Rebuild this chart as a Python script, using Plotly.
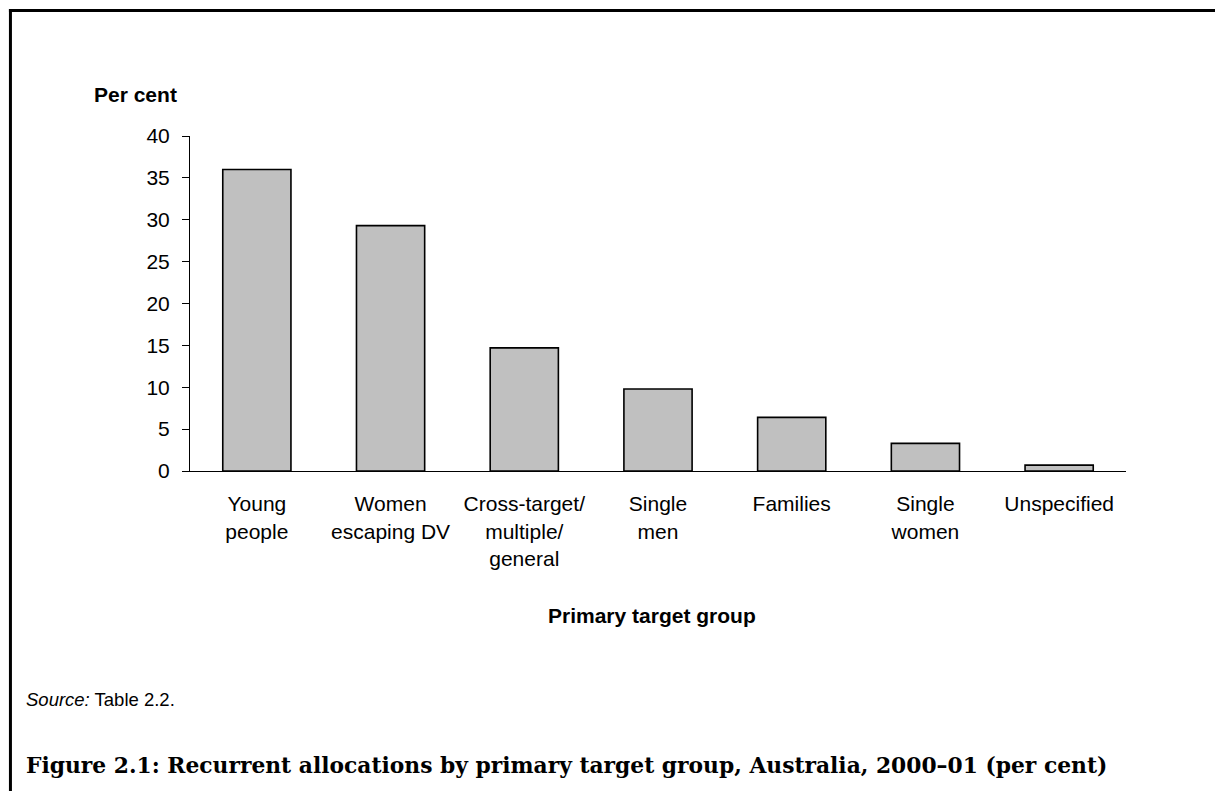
import plotly.graph_objects as go

categories = ["Young<br>people", "Women<br>escaping DV", "Cross-target/<br>multiple/<br>general",
              "Single<br>men", "Families", "Single<br>women", "Unspecified"]
values = [36.0, 29.3, 14.7, 9.8, 6.4, 3.3, 0.7]
y_ticks = [0, 5, 10, 15, 20, 25, 30, 35, 40]

W, H = 1215, 791
L, R, T, B = 190, 1125.7, 136, 471

def px(x):
    return (x - L) / (R - L)

def py(y):
    return (B - y) / (B - T)

fig = go.Figure()
fig.add_trace(go.Bar(
    x=categories, y=values,
    marker=dict(color="#C0C0C0", line=dict(color="black", width=1.6)),
    width=0.51, hoverinfo="x+y",
))

sans = "Liberation Sans, Arial, sans-serif"
fig.update_layout(
    width=W, height=H,
    margin=dict(l=L, r=W - R, t=T, b=H - B, pad=0),
    paper_bgcolor="white", plot_bgcolor="white",
    showlegend=False,
    font=dict(family=sans, size=21, color="black"),
    xaxis=dict(
        range=[-0.5, 6.5], showline=True, linecolor="black", linewidth=1,
        ticks="", showgrid=False, zeroline=False,
        tickfont=dict(family=sans, size=21, color="black"),
        ticklabelstandoff=14,
    ),
    yaxis=dict(
        range=[0, 40], tickvals=y_ticks, ticktext=[str(v) for v in y_ticks],
        showline=True, linecolor="black", linewidth=1,
        ticks="outside", ticklen=7, tickcolor="black", tickwidth=1,
        showgrid=False, zeroline=False,
        tickfont=dict(family=sans, size=21, color="black"),
        ticklabelstandoff=8,
    ),
    shapes=[
        dict(type="line", xref="paper", yref="paper", x0=px(9), x1=px(1230), y0=py(10.5), y1=py(10.5),
             line=dict(color="black", width=3)),
        dict(type="line", xref="paper", yref="paper", x0=px(10.5), x1=px(10.5), y0=py(9), y1=py(800),
             line=dict(color="black", width=3)),
    ],
    annotations=[
        dict(text="<b>Per cent</b>", xref="paper", yref="paper", x=px(92), y=py(94),
             xanchor="left", yanchor="middle", showarrow=False,
             font=dict(family=sans, size=21, color="black")),
        dict(text="<b>Primary target group</b>", xref="paper", yref="paper", x=px(652), y=py(615),
             xanchor="center", yanchor="middle", showarrow=False,
             font=dict(family=sans, size=21, color="black")),
        dict(text="<i>Source:</i> Table 2.2.", xref="paper", yref="paper", x=px(24), y=py(699),
             xanchor="left", yanchor="middle", showarrow=False,
             font=dict(family=sans, size=18.5, color="black")),
        dict(text="<b>Figure 2.1: Recurrent allocations by primary target group, Australia, 2000–01 (per cent)</b>",
             xref="paper", yref="paper", x=px(24), y=py(765),
             xanchor="left", yanchor="middle", showarrow=False,
             font=dict(family="DejaVu Serif, serif", size=21.8, color="black")),
    ],
)

fig.write_html("out.html", config={"displayModeBar": False},
               post_script="document.body.style.margin='0';")
